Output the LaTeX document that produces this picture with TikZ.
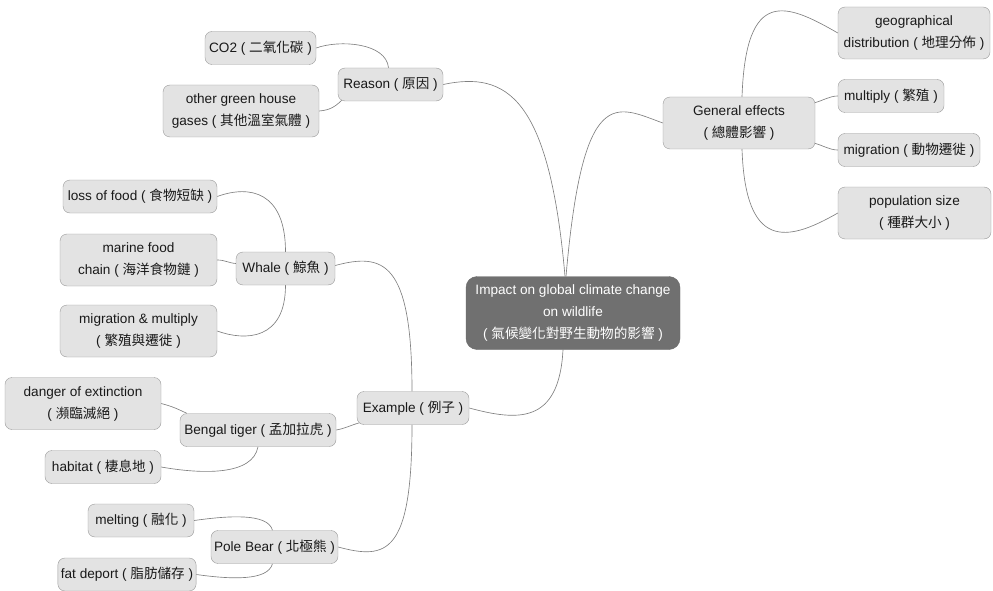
\documentclass[tikz,border=0pt]{standalone}
\usepackage{fontspec}
\setmainfont{Liberation Sans}
\newfontfamily\cjk{Noto Sans CJK TC}
\usetikzlibrary{backgrounds}
\newcommand\zh[1]{{\cjk #1}}
\newcommand\mmfont{\fontsize{13.6}{22}\selectfont}
\tikzset{
  topic/.style={rectangle, rounded corners=7pt, draw=black!40, fill=black!11, text=black!90,
                minimum height=33pt, inner xsep=3pt, align=center, font=\mmfont},
  twoline/.style={minimum height=52pt},
  central/.style={topic, rounded corners=11pt, draw=black!58, fill=black!56, text=white},
  link/.style={draw=black!50, line width=0.65pt},
}

\begin{document}
\begin{tikzpicture}[x=1pt, y=1pt]
\useasboundingbox (0,0) rectangle (993,-591);
% centre and main branches
\node[central, minimum width=214pt, minimum height=73pt] (impact) at (573,-313) {Impact on global climate change\\on wildlife\\( \zh{氣候變化對野生動物的影響} )};
\node[topic, minimum width=105pt] (reason) at (390.5,-84.5) {Reason ( \zh{原因} )};
\node[topic, twoline, minimum width=152pt] (general) at (739,-123) {General effects\\( \zh{總體影響} )};
\node[topic, minimum width=112pt] (example) at (413,-408) {Example ( \zh{例子} )};
% reason
\node[topic, minimum width=111pt] (co2) at (260.5,-48) {CO2 ( \zh{二氧化碳} )};
\node[topic, twoline, minimum width=156pt] (other) at (241,-111) {other green house\\gases ( \zh{其他溫室氣體} )};
% general effects
\node[topic, twoline, minimum width=152pt] (geo) at (914,-33) {geographical\\distribution ( \zh{地理分佈} )};
\node[topic, minimum width=106pt] (multiply) at (891,-96) {multiply ( \zh{繁殖} )};
\node[topic, minimum width=142pt] (migration) at (909,-150) {migration ( \zh{動物遷徙} )};
\node[topic, twoline, minimum width=153pt] (population) at (914.5,-213) {population size\\( \zh{種群大小} )};
% examples
\node[topic, minimum width=99pt] (whale) at (285.5,-268.5) {Whale ( \zh{鯨魚} )};
\node[topic, minimum width=154pt] (loss) at (140,-196.5) {loss of food ( \zh{食物短缺} )};
\node[topic, twoline, minimum width=157pt] (marine) at (138.5,-260) {marine food\\chain ( \zh{海洋食物鏈} )};
\node[topic, twoline, minimum width=157pt] (migmult) at (138.5,-331) {migration \& multiply\\( \zh{繁殖與遷徙} )};
\node[topic, minimum width=156pt] (bengal) at (258,-430) {Bengal tiger ( \zh{孟加拉虎} )};
\node[topic, twoline, minimum width=156pt] (danger) at (83,-403.5) {danger of extinction\\( \zh{瀕臨滅絕} )};
\node[topic, minimum width=116pt] (habitat) at (103,-467) {habitat ( \zh{棲息地} )};
\node[topic, minimum width=123pt] (pole) at (274.5,-547) {Pole Bear ( \zh{北極熊} )};
\node[topic, minimum width=106pt] (melting) at (141,-520.5) {melting ( \zh{融化} )};
\node[topic, minimum width=134pt] (fat) at (127,-574.5) {fat deport ( \zh{脂肪儲存} )};

\begin{scope}[on background layer]
\draw[link] ([xshift=-8pt]impact.north) to[out=95, in=12, out distance=180pt, in distance=65pt] (reason.east);
\draw[link] ([xshift=-7pt]impact.north) to[out=85, in=160, out distance=195pt, in distance=50pt] (general.west);
\draw[link] ([xshift=-10pt]impact.south) to[out=-93, in=-15, out distance=75pt, in distance=50pt] (example.east);

\draw[link] ([xshift=-2pt]reason.north) to[out=95, in=20, out distance=25pt, in distance=25pt] (co2.east);
\draw[link] ([xshift=4pt,yshift=1pt]reason.south west) to[out=-135, in=5, out distance=10pt, in distance=10pt] (other.east);

\draw[link] ([xshift=3pt]general.north) to[out=88, in=150, out distance=110pt, in distance=60pt] (geo.west);
\draw[link] (general.15) to[out=15, in=180, out distance=8pt, in distance=8pt] (multiply.west);
\draw[link] (general.-15) to[out=-15, in=180, out distance=8pt, in distance=8pt] (migration.west);
\draw[link] ([xshift=3pt]general.south) to[out=-88, in=-150, out distance=100pt, in distance=60pt] (population.west);

\draw[link] ([xshift=-1pt]example.north) to[out=90, in=15, out distance=130pt, in distance=50pt] ([yshift=3pt]whale.east);
\draw[link] ([xshift=3pt,yshift=2pt]example.south west) to[out=195, in=10, out distance=10pt, in distance=10pt] (bengal.east);
\draw[link] ([xshift=-1pt]example.south) to[out=-90, in=-15, out distance=130pt, in distance=50pt] (pole.east);

\draw[link] (whale.north) to[out=90, in=20, out distance=60pt, in distance=35pt] (loss.east);
\draw[link] ([yshift=5pt]whale.west) to[out=175, in=0, out distance=8pt, in distance=8pt] (marine.east);
\draw[link] (whale.south) to[out=-90, in=-20, out distance=55pt, in distance=30pt] (migmult.east);

\draw[link] ([xshift=7pt]bengal.north west) to[out=155, in=-15, out distance=12pt, in distance=12pt] (danger.east);
\draw[link] (bengal.south) to[out=-100, in=-10, out distance=30pt, in distance=40pt] (habitat.east);

\draw[link] ([xshift=-2pt]pole.north) to[out=105, in=8, out distance=18pt, in distance=35pt] (melting.east);
\draw[link] ([xshift=-2pt]pole.south) to[out=-105, in=-8, out distance=18pt, in distance=35pt] (fat.east);
\end{scope}
\end{tikzpicture}
\end{document}
